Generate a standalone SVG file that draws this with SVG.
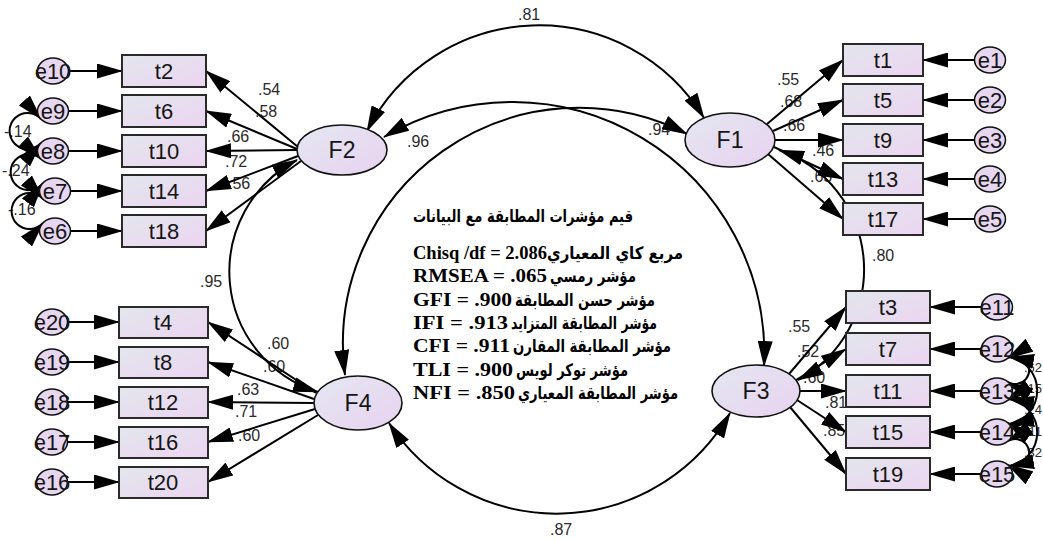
<svg xmlns="http://www.w3.org/2000/svg" width="1043" height="541" viewBox="0 0 1043 541">
  <style>
    .bg { fill: #ffffff; }
    .box { fill: url(#gBox); stroke: #2a2a2a; stroke-width: 2; }
    .lat { fill: url(#gLat); stroke: #111; stroke-width: 1.6; }
    .err { fill: #e6d6f0; stroke: #111; stroke-width: 1.5; }
    .lbl { font-family: 'Liberation Sans', Arial, sans-serif; font-size: 22px; fill: #151515; text-anchor: middle; }
    .flbl { font-family: 'Liberation Sans', Arial, sans-serif; font-size: 23px; fill: #151515; text-anchor: middle; }
    .num { font-family: 'Liberation Sans', Arial, sans-serif; font-size: 16px; fill: #2a2a2a; }
    .edge { font-size: 13px; text-anchor: end; }
    .ln { fill: none; stroke: #000; stroke-width: 2; marker-end: url(#ah); }
    .cov { fill: none; stroke: #000; stroke-width: 2; marker-start: url(#ah); marker-end: url(#ah); }
    .en { font-family: 'Liberation Serif', 'Times New Roman', serif; font-weight: bold; font-size: 18px; fill: #000; }
    .ar { font-family: 'DejaVu Sans', sans-serif; font-weight: bold; font-size: 17px; fill: #000; }
  </style>
  <defs>
    <linearGradient id="gBox" x1="0" y1="0" x2="1" y2="1">
      <stop offset="0" stop-color="#e2e6ec"/>
      <stop offset="1" stop-color="#ecd5f1"/>
    </linearGradient>
    <linearGradient id="gLat" x1="0" y1="0" x2="1" y2="1">
      <stop offset="0" stop-color="#e4e7f1"/>
      <stop offset="1" stop-color="#e8d2f0"/>
    </linearGradient>
    <marker id="ah" viewBox="0 0 26 15" markerWidth="26" markerHeight="15" refX="25" refY="7.5" orient="auto-start-reverse" markerUnits="userSpaceOnUse">
      <path d="M0,0 L26,7.5 L0,15 z" fill="#000"/>
    </marker>
  </defs>

  <rect class="bg" x="0" y="0" width="1043" height="541"/>

  <!-- coefficient labels -->
  <g id="coefficients">
    <text class="num" x="518" y="20">.81</text>
    <text class="num" x="407" y="147">.96</text>
    <text class="num" x="648" y="135">.94</text>
    <text class="num" x="200" y="287">.95</text>
    <text class="num" x="872" y="261">.80</text>
    <text class="num" x="550" y="535">.87</text>

    <text class="num" x="258" y="95">.54</text>
    <text class="num" x="255" y="117">.58</text>
    <text class="num" x="227" y="142">.66</text>
    <text class="num" x="225" y="167">.72</text>
    <text class="num" x="228" y="189">.56</text>

    <text class="num" x="267" y="349">.60</text>
    <text class="num" x="263" y="372">.60</text>
    <text class="num" x="237" y="395">.63</text>
    <text class="num" x="235" y="417">.71</text>
    <text class="num" x="238" y="441">.60</text>

    <text class="num" x="777" y="85">.55</text>
    <text class="num" x="780" y="107">.68</text>
    <text class="num" x="783" y="131">.66</text>
    <text class="num" x="812" y="156">.46</text>
    <text class="num" x="810" y="182">.65</text>

    <text class="num" x="788" y="332">.55</text>
    <text class="num" x="797" y="357">.52</text>
    <text class="num" x="803" y="383">.60</text>
    <text class="num" x="825" y="408">.81</text>
    <text class="num" x="823" y="436">.85</text>

    <text class="num" x="4" y="137">-.14</text>
    <text class="num" x="2" y="176">-.24</text>
    <text class="num" x="8" y="215">-.16</text>

    <text class="num edge" x="1042" y="372">.62</text>
    <text class="num edge" x="1042" y="393">-.15</text>
    <text class="num edge" x="1042" y="414">.24</text>
    <text class="num edge" x="1042" y="436">-.11</text>
    <text class="num edge" x="1042" y="457">.32</text>
  </g>

  <!-- connectors: loadings, error paths and covariances -->
  <g id="connectors">
    <!-- F2 loadings -->
    <path class="ln" d="M298,147 L206,71"/>
    <path class="ln" d="M297,149 L206,111"/>
    <path class="ln" d="M297,150 L206,151"/>
    <path class="ln" d="M298,156 L206,191"/>
    <path class="ln" d="M301,161 L206,231"/>
    <!-- F4 loadings -->
    <path class="ln" d="M316,393 L208,322"/>
    <path class="ln" d="M314,399 L208,362"/>
    <path class="ln" d="M314,403 L208,402"/>
    <path class="ln" d="M315,409 L208,442"/>
    <path class="ln" d="M318,415 L208,482"/>
    <!-- F1 loadings -->
    <path class="ln" d="M767,124 L843,60"/>
    <path class="ln" d="M773,131 L843,100"/>
    <path class="ln" d="M775,140 L843,140"/>
    <path class="ln" d="M774,147 L843,179"/>
    <path class="ln" d="M768,154 L843,219"/>
    <!-- F3 loadings -->
    <path class="ln" d="M789,374 L846,307"/>
    <path class="ln" d="M796,380 L846,349"/>
    <path class="ln" d="M800,391 L846,391"/>
    <path class="ln" d="M797,400 L846,432"/>
    <path class="ln" d="M790,407 L846,474"/>

    <!-- error terms, left -->
    <path class="ln" d="M68,71 L122,71"/>
    <path class="ln" d="M68,111 L122,111"/>
    <path class="ln" d="M68,151 L122,151"/>
    <path class="ln" d="M70,191 L122,191"/>
    <path class="ln" d="M70,231 L122,231"/>
    <path class="ln" d="M67,322 L119,322"/>
    <path class="ln" d="M67,362 L119,362"/>
    <path class="ln" d="M67,402 L119,402"/>
    <path class="ln" d="M67,442 L119,442"/>
    <path class="ln" d="M67,482 L119,482"/>
    <!-- error terms, right -->
    <path class="ln" d="M975,60 L923,60"/>
    <path class="ln" d="M975,100 L923,100"/>
    <path class="ln" d="M975,140 L923,140"/>
    <path class="ln" d="M975,179 L923,179"/>
    <path class="ln" d="M975,219 L923,219"/>
    <path class="ln" d="M982,307 L930,307"/>
    <path class="ln" d="M982,349 L930,349"/>
    <path class="ln" d="M982,391 L930,391"/>
    <path class="ln" d="M982,432 L930,432"/>
    <path class="ln" d="M982,474 L930,474"/>

    <!-- factor covariances -->
    <path class="cov" d="M367,131 A193,193 0 0 1 704,118"/>
    <path class="cov" d="M384,137 A252,252 0 0 1 764,366"/>
    <path class="cov" d="M687,134 A236,236 0 0 0 345,375"/>
    <path class="cov" d="M297,160 A126,126 0 0 0 318,392"/>
    <path class="cov" d="M779,150 A126,126 0 0 1 798,380"/>
    <path class="cov" d="M389,423 A200,200 0 0 0 730,413"/>

    <!-- error covariances, left -->
    <path class="cov" d="M41,119 A18,18 0 1 0 41,143"/>
    <path class="cov" d="M41,159 A18,18 0 1 0 43,183"/>
    <path class="cov" d="M43,199 A18,18 0 1 0 43,223"/>
    <!-- error covariances, right -->
    <path class="cov" d="M1008,358 A14,14 0 1 1 1008,382"/>
    <path class="cov" d="M1008,400 A14,14 0 1 1 1008,423"/>
    <path class="cov" d="M1008,441 A14,14 0 1 1 1008,465"/>
    <path class="cov" d="M1009,357 A34,34 0 0 1 1009,424"/>
    <path class="cov" d="M1009,399 A34,34 0 0 1 1009,466"/>
  </g>

  <!-- latent factors -->
  <g id="F2"><ellipse class="lat" cx="342" cy="150" rx="45" ry="25"/><text class="flbl" x="342" y="158">F2</text></g>
  <g id="F1"><ellipse class="lat" cx="730" cy="140" rx="45" ry="27"/><text class="flbl" x="730" y="148">F1</text></g>
  <g id="F3"><ellipse class="lat" cx="756" cy="391" rx="44" ry="26"/><text class="flbl" x="756" y="399">F3</text></g>
  <g id="F4"><ellipse class="lat" cx="358" cy="403" rx="44" ry="27"/><text class="flbl" x="358" y="411">F4</text></g>

  <!-- observed indicators, left top -->
  <g id="t2"><rect class="box" x="122" y="55" width="84" height="32"/><text class="lbl" x="164" y="79">t2</text></g>
  <g id="t6"><rect class="box" x="122" y="95" width="84" height="32"/><text class="lbl" x="164" y="119">t6</text></g>
  <g id="t10"><rect class="box" x="122" y="135" width="84" height="32"/><text class="lbl" x="164" y="159">t10</text></g>
  <g id="t14"><rect class="box" x="122" y="175" width="84" height="32"/><text class="lbl" x="164" y="199">t14</text></g>
  <g id="t18"><rect class="box" x="122" y="215" width="84" height="32"/><text class="lbl" x="164" y="239">t18</text></g>
  <!-- left bottom -->
  <g id="t4"><rect class="box" x="119" y="307" width="89" height="31"/><text class="lbl" x="163" y="330">t4</text></g>
  <g id="t8"><rect class="box" x="119" y="347" width="89" height="31"/><text class="lbl" x="163" y="370">t8</text></g>
  <g id="t12"><rect class="box" x="119" y="387" width="89" height="31"/><text class="lbl" x="163" y="410">t12</text></g>
  <g id="t16"><rect class="box" x="119" y="427" width="89" height="31"/><text class="lbl" x="163" y="450">t16</text></g>
  <g id="t20"><rect class="box" x="119" y="467" width="89" height="31"/><text class="lbl" x="163" y="490">t20</text></g>
  <!-- right top -->
  <g id="t1"><rect class="box" x="843" y="44" width="80" height="32"/><text class="lbl" x="883" y="68">t1</text></g>
  <g id="t5"><rect class="box" x="843" y="84" width="80" height="32"/><text class="lbl" x="883" y="108">t5</text></g>
  <g id="t9"><rect class="box" x="843" y="124" width="80" height="32"/><text class="lbl" x="883" y="148">t9</text></g>
  <g id="t13"><rect class="box" x="843" y="163" width="80" height="32"/><text class="lbl" x="883" y="187">t13</text></g>
  <g id="t17"><rect class="box" x="843" y="203" width="80" height="32"/><text class="lbl" x="883" y="227">t17</text></g>
  <!-- right bottom -->
  <g id="t3"><rect class="box" x="846" y="291" width="84" height="32"/><text class="lbl" x="888" y="315">t3</text></g>
  <g id="t7"><rect class="box" x="846" y="333" width="84" height="32"/><text class="lbl" x="888" y="357">t7</text></g>
  <g id="t11"><rect class="box" x="846" y="375" width="84" height="32"/><text class="lbl" x="888" y="399">t11</text></g>
  <g id="t15"><rect class="box" x="846" y="416" width="84" height="32"/><text class="lbl" x="888" y="440">t15</text></g>
  <g id="t19"><rect class="box" x="846" y="458" width="84" height="32"/><text class="lbl" x="888" y="482">t19</text></g>

  <!-- error terms -->
  <g id="e10"><ellipse class="err" cx="53" cy="71" rx="15.5" ry="13"/><text class="lbl" x="53" y="79">e10</text></g>
  <g id="e9"><ellipse class="err" cx="53" cy="111" rx="15.5" ry="13"/><text class="lbl" x="53" y="119">e9</text></g>
  <g id="e8"><ellipse class="err" cx="53" cy="151" rx="15.5" ry="13"/><text class="lbl" x="53" y="159">e8</text></g>
  <g id="e7"><ellipse class="err" cx="55" cy="191" rx="15.5" ry="13"/><text class="lbl" x="55" y="199">e7</text></g>
  <g id="e6"><ellipse class="err" cx="55" cy="231" rx="15.5" ry="13"/><text class="lbl" x="55" y="239">e6</text></g>

  <g id="e20"><ellipse class="err" cx="52" cy="322" rx="15.5" ry="13"/><text class="lbl" x="52" y="330">e20</text></g>
  <g id="e19"><ellipse class="err" cx="52" cy="362" rx="15.5" ry="13"/><text class="lbl" x="52" y="370">e19</text></g>
  <g id="e18"><ellipse class="err" cx="52" cy="402" rx="15.5" ry="13"/><text class="lbl" x="52" y="410">e18</text></g>
  <g id="e17"><ellipse class="err" cx="52" cy="442" rx="15.5" ry="13"/><text class="lbl" x="52" y="450">e17</text></g>
  <g id="e16"><ellipse class="err" cx="52" cy="482" rx="15.5" ry="13"/><text class="lbl" x="52" y="490">e16</text></g>

  <g id="e1"><ellipse class="err" cx="990" cy="60" rx="15.5" ry="13"/><text class="lbl" x="990" y="68">e1</text></g>
  <g id="e2"><ellipse class="err" cx="990" cy="100" rx="15.5" ry="13"/><text class="lbl" x="990" y="108">e2</text></g>
  <g id="e3"><ellipse class="err" cx="990" cy="140" rx="15.5" ry="13"/><text class="lbl" x="990" y="148">e3</text></g>
  <g id="e4"><ellipse class="err" cx="990" cy="179" rx="15.5" ry="13"/><text class="lbl" x="990" y="187">e4</text></g>
  <g id="e5"><ellipse class="err" cx="990" cy="219" rx="15.5" ry="13"/><text class="lbl" x="990" y="227">e5</text></g>

  <g id="e11"><ellipse class="err" cx="997" cy="307" rx="15.5" ry="13"/><text class="lbl" x="997" y="315">e11</text></g>
  <g id="e12"><ellipse class="err" cx="997" cy="349" rx="15.5" ry="13"/><text class="lbl" x="997" y="357">e12</text></g>
  <g id="e13"><ellipse class="err" cx="997" cy="391" rx="15.5" ry="13"/><text class="lbl" x="997" y="399">e13</text></g>
  <g id="e14"><ellipse class="err" cx="997" cy="432" rx="15.5" ry="13"/><text class="lbl" x="997" y="440">e14</text></g>
  <g id="e15"><ellipse class="err" cx="997" cy="474" rx="15.5" ry="13"/><text class="lbl" x="997" y="482">e15</text></g>

  <!-- model fit summary -->
  <g id="fit-indices">
    <text class="ar" x="413" y="222" textLength="220" lengthAdjust="spacingAndGlyphs">قيم مؤشرات المطابقة مع البيانات</text>

    <text class="en" x="413" y="259" textLength="134" lengthAdjust="spacingAndGlyphs">Chisq /df = 2.086</text>
    <text class="ar" x="547" y="259" textLength="136" lengthAdjust="spacingAndGlyphs">مربع كاي المعياري</text>

    <text class="en" x="413" y="282" textLength="134" lengthAdjust="spacingAndGlyphs">RMSEA = .065</text>
    <text class="ar" x="550" y="282" textLength="86" lengthAdjust="spacingAndGlyphs">مؤشر رمسي</text>

    <text class="en" x="413" y="306" textLength="99" lengthAdjust="spacingAndGlyphs">GFI = .900</text>
    <text class="ar" x="515" y="306" textLength="140" lengthAdjust="spacingAndGlyphs">مؤشر حسن المطابقة</text>

    <text class="en" x="413" y="329" textLength="95" lengthAdjust="spacingAndGlyphs">IFI = .913</text>
    <text class="ar" x="511" y="329" textLength="146" lengthAdjust="spacingAndGlyphs">مؤشر المطابقة المتزايد</text>

    <text class="en" x="413" y="352" textLength="97" lengthAdjust="spacingAndGlyphs">CFI = .911</text>
    <text class="ar" x="513" y="352" textLength="158" lengthAdjust="spacingAndGlyphs">مؤشر المطابقة المقارن</text>

    <text class="en" x="413" y="376" textLength="100" lengthAdjust="spacingAndGlyphs">TLI = .900</text>
    <text class="ar" x="516" y="376" textLength="112" lengthAdjust="spacingAndGlyphs">مؤشر توكر لويس</text>

    <text class="en" x="413" y="399" textLength="102" lengthAdjust="spacingAndGlyphs">NFI = .850</text>
    <text class="ar" x="518" y="399" textLength="160" lengthAdjust="spacingAndGlyphs">مؤشر المطابقة المعياري</text>
  </g>
</svg>
